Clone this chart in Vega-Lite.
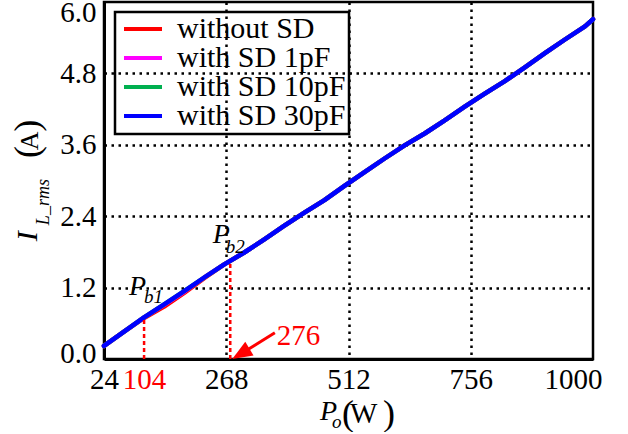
{
  "$schema": "https://vega.github.io/schema/vega-lite/v6.json",
  "width": 489,
  "height": 357,
  "autosize": {"type": "none"},
  "padding": {"left": 104, "top": 2, "right": 35, "bottom": 73},
  "background": "white",
  "config": {
    "view": {"stroke": "black", "strokeWidth": 2.5},
    "font": "'Liberation Serif', serif",
    "axis": {
      "labelFont": "'Liberation Serif', serif",
      "labelFontSize": 29,
      "labelColor": "black",
      "labelOverlap": false,
      "labelBound": false,
      "labelFlush": false,
      "ticks": false,
      "domain": true,
      "domainColor": "black",
      "domainWidth": 3,
      "grid": true,
      "gridColor": "black",
      "gridDash": [2.5, 4.5],
      "gridWidth": 2.5,
      "title": null
    },
    "legend": {
      "orient": "none",
      "legendX": 11,
      "legendY": 10,
      "strokeColor": "black",
      "strokeWidth": 2.5,
      "padding": 3,
      "labelFont": "'Liberation Serif', serif",
      "labelFontSize": 30,
      "labelLimit": 400,
      "labelColor": "black",
      "labelOffset": 13,
      "symbolType": "stroke",
      "symbolSize": 1444,
      "symbolStrokeWidth": 4,
      "symbolOffset": 4,
      "clipHeight": 28,
      "rowPadding": -2,
      "title": null
    }
  },
  "layer": [
    {
      "data": {
        "values": [
          {"Po": 24, "I": 0.22, "series": "without SD"},
          {"Po": 64, "I": 0.46, "series": "without SD"},
          {"Po": 104, "I": 0.69, "series": "without SD"},
          {"Po": 144, "I": 0.88, "series": "without SD"},
          {"Po": 184, "I": 1.11, "series": "without SD"},
          {"Po": 224, "I": 1.36, "series": "without SD"},
          {"Po": 264, "I": 1.59, "series": "without SD"},
          {"Po": 304, "I": 1.79, "series": "without SD"},
          {"Po": 344, "I": 2.01, "series": "without SD"},
          {"Po": 384, "I": 2.24, "series": "without SD"},
          {"Po": 424, "I": 2.46, "series": "without SD"},
          {"Po": 464, "I": 2.67, "series": "without SD"},
          {"Po": 504, "I": 2.91, "series": "without SD"},
          {"Po": 544, "I": 3.14, "series": "without SD"},
          {"Po": 584, "I": 3.37, "series": "without SD"},
          {"Po": 624, "I": 3.59, "series": "without SD"},
          {"Po": 664, "I": 3.79, "series": "without SD"},
          {"Po": 704, "I": 4.01, "series": "without SD"},
          {"Po": 744, "I": 4.24, "series": "without SD"},
          {"Po": 784, "I": 4.46, "series": "without SD"},
          {"Po": 824, "I": 4.67, "series": "without SD"},
          {"Po": 864, "I": 4.90, "series": "without SD"},
          {"Po": 904, "I": 5.14, "series": "without SD"},
          {"Po": 944, "I": 5.37, "series": "without SD"},
          {"Po": 984, "I": 5.59, "series": "without SD"},
          {"Po": 1000, "I": 5.71, "series": "without SD"},
          {"Po": 24, "I": 0.22, "series": "with SD 1pF"},
          {"Po": 64, "I": 0.46, "series": "with SD 1pF"},
          {"Po": 104, "I": 0.70, "series": "with SD 1pF"},
          {"Po": 144, "I": 0.91, "series": "with SD 1pF"},
          {"Po": 184, "I": 1.13, "series": "with SD 1pF"},
          {"Po": 224, "I": 1.37, "series": "with SD 1pF"},
          {"Po": 264, "I": 1.59, "series": "with SD 1pF"},
          {"Po": 304, "I": 1.79, "series": "with SD 1pF"},
          {"Po": 344, "I": 2.01, "series": "with SD 1pF"},
          {"Po": 384, "I": 2.24, "series": "with SD 1pF"},
          {"Po": 424, "I": 2.46, "series": "with SD 1pF"},
          {"Po": 464, "I": 2.67, "series": "with SD 1pF"},
          {"Po": 504, "I": 2.91, "series": "with SD 1pF"},
          {"Po": 544, "I": 3.14, "series": "with SD 1pF"},
          {"Po": 584, "I": 3.37, "series": "with SD 1pF"},
          {"Po": 624, "I": 3.59, "series": "with SD 1pF"},
          {"Po": 664, "I": 3.79, "series": "with SD 1pF"},
          {"Po": 704, "I": 4.01, "series": "with SD 1pF"},
          {"Po": 744, "I": 4.24, "series": "with SD 1pF"},
          {"Po": 784, "I": 4.46, "series": "with SD 1pF"},
          {"Po": 824, "I": 4.67, "series": "with SD 1pF"},
          {"Po": 864, "I": 4.90, "series": "with SD 1pF"},
          {"Po": 904, "I": 5.14, "series": "with SD 1pF"},
          {"Po": 944, "I": 5.37, "series": "with SD 1pF"},
          {"Po": 984, "I": 5.59, "series": "with SD 1pF"},
          {"Po": 1000, "I": 5.71, "series": "with SD 1pF"},
          {"Po": 24, "I": 0.22, "series": "with SD 10pF"},
          {"Po": 64, "I": 0.46, "series": "with SD 10pF"},
          {"Po": 104, "I": 0.70, "series": "with SD 10pF"},
          {"Po": 144, "I": 0.92, "series": "with SD 10pF"},
          {"Po": 184, "I": 1.14, "series": "with SD 10pF"},
          {"Po": 224, "I": 1.37, "series": "with SD 10pF"},
          {"Po": 264, "I": 1.59, "series": "with SD 10pF"},
          {"Po": 304, "I": 1.79, "series": "with SD 10pF"},
          {"Po": 344, "I": 2.01, "series": "with SD 10pF"},
          {"Po": 384, "I": 2.24, "series": "with SD 10pF"},
          {"Po": 424, "I": 2.46, "series": "with SD 10pF"},
          {"Po": 464, "I": 2.67, "series": "with SD 10pF"},
          {"Po": 504, "I": 2.91, "series": "with SD 10pF"},
          {"Po": 544, "I": 3.14, "series": "with SD 10pF"},
          {"Po": 584, "I": 3.37, "series": "with SD 10pF"},
          {"Po": 624, "I": 3.59, "series": "with SD 10pF"},
          {"Po": 664, "I": 3.79, "series": "with SD 10pF"},
          {"Po": 704, "I": 4.01, "series": "with SD 10pF"},
          {"Po": 744, "I": 4.24, "series": "with SD 10pF"},
          {"Po": 784, "I": 4.46, "series": "with SD 10pF"},
          {"Po": 824, "I": 4.67, "series": "with SD 10pF"},
          {"Po": 864, "I": 4.90, "series": "with SD 10pF"},
          {"Po": 904, "I": 5.14, "series": "with SD 10pF"},
          {"Po": 944, "I": 5.37, "series": "with SD 10pF"},
          {"Po": 984, "I": 5.59, "series": "with SD 10pF"},
          {"Po": 1000, "I": 5.71, "series": "with SD 10pF"},
          {"Po": 24, "I": 0.22, "series": "with SD 30pF"},
          {"Po": 64, "I": 0.46, "series": "with SD 30pF"},
          {"Po": 104, "I": 0.70, "series": "with SD 30pF"},
          {"Po": 144, "I": 0.92, "series": "with SD 30pF"},
          {"Po": 184, "I": 1.14, "series": "with SD 30pF"},
          {"Po": 224, "I": 1.37, "series": "with SD 30pF"},
          {"Po": 264, "I": 1.59, "series": "with SD 30pF"},
          {"Po": 304, "I": 1.79, "series": "with SD 30pF"},
          {"Po": 344, "I": 2.01, "series": "with SD 30pF"},
          {"Po": 384, "I": 2.24, "series": "with SD 30pF"},
          {"Po": 424, "I": 2.46, "series": "with SD 30pF"},
          {"Po": 464, "I": 2.67, "series": "with SD 30pF"},
          {"Po": 504, "I": 2.91, "series": "with SD 30pF"},
          {"Po": 544, "I": 3.14, "series": "with SD 30pF"},
          {"Po": 584, "I": 3.37, "series": "with SD 30pF"},
          {"Po": 624, "I": 3.59, "series": "with SD 30pF"},
          {"Po": 664, "I": 3.79, "series": "with SD 30pF"},
          {"Po": 704, "I": 4.01, "series": "with SD 30pF"},
          {"Po": 744, "I": 4.24, "series": "with SD 30pF"},
          {"Po": 784, "I": 4.46, "series": "with SD 30pF"},
          {"Po": 824, "I": 4.67, "series": "with SD 30pF"},
          {"Po": 864, "I": 4.90, "series": "with SD 30pF"},
          {"Po": 904, "I": 5.14, "series": "with SD 30pF"},
          {"Po": 944, "I": 5.37, "series": "with SD 30pF"},
          {"Po": 984, "I": 5.59, "series": "with SD 30pF"},
          {"Po": 1000, "I": 5.71, "series": "with SD 30pF"}
        ]
      },
      "mark": {"type": "line", "strokeWidth": 4.5, "strokeJoin": "round", "strokeCap": "round"},
      "encoding": {
        "x": {
          "field": "Po", "type": "quantitative",
          "scale": {"domain": [24, 1000], "nice": false, "zero": false},
          "axis": {
            "values": [24, 104, 268, 512, 756, 1000],
            "format": "d",
            "labelPadding": 6,
            "labelColor": {"condition": {"test": "datum.value == 104", "value": "#ff0000"}, "value": "black"},
            "labelOffset": {"condition": {"test": "datum.value == 1000", "value": -20}, "value": 0},
            "gridOpacity": {"condition": {"test": "datum.value == 104 || datum.value == 24 || datum.value == 1000", "value": 0}, "value": 1}
          }
        },
        "y": {
          "field": "I", "type": "quantitative",
          "scale": {"domain": [0, 6], "nice": false},
          "axis": {
            "values": [0, 1.2, 2.4, 3.6, 4.8, 6],
            "format": ".1f",
            "labelPadding": 8,
            "labelOffset": {"condition": [{"test": "datum.value == 6", "value": 10}, {"test": "datum.value == 0", "value": -6}], "value": 0},
            "gridOpacity": {"condition": {"test": "datum.value == 0 || datum.value == 6", "value": 0}, "value": 1}
          }
        },
        "color": {
          "field": "series", "type": "nominal",
          "scale": {
            "domain": ["without SD", "with SD 1pF", "with SD 10pF", "with SD 30pF"],
            "range": ["#ff0000", "#ff00ff", "#00b050", "#0000ff"]
          }
        }
      }
    },
    {
      "data": {"values": [{"Po": 104, "I": 0, "I2": 0.70}, {"Po": 276, "I": 0, "I2": 1.61}]},
      "mark": {"type": "rule", "color": "#ff0000", "strokeWidth": 2.5, "strokeDash": [4, 3]},
      "encoding": {
        "x": {"field": "Po", "type": "quantitative"},
        "y": {"field": "I", "type": "quantitative"},
        "y2": {"field": "I2"}
      }
    },
    {
      "data": {"values": [{"Po": 365, "I": 0.44, "Po2": 300, "I2": 0.1}]},
      "mark": {"type": "rule", "color": "#ff0000", "strokeWidth": 3},
      "encoding": {
        "x": {"field": "Po", "type": "quantitative"},
        "y": {"field": "I", "type": "quantitative"},
        "x2": {"field": "Po2"},
        "y2": {"field": "I2"}
      }
    },
    {
      "data": {"values": [{"Po": 280, "I": 0}]},
      "mark": {"type": "point", "shape": "M0,0L-0.4,1L0.4,1Z", "size": 1600, "angle": 239, "filled": true, "color": "#ff0000", "opacity": 1, "strokeWidth": 0, "clip": false},
      "encoding": {
        "x": {"field": "Po", "type": "quantitative"},
        "y": {"field": "I", "type": "quantitative"}
      }
    },
    {
      "data": {"values": [{"Po": 369, "I": 0.235, "t": "276"}]},
      "mark": {"type": "text", "color": "#ff0000", "fontSize": 29, "font": "'Liberation Serif', serif", "align": "left", "baseline": "alphabetic"},
      "encoding": {
        "x": {"field": "Po", "type": "quantitative"},
        "y": {"field": "I", "type": "quantitative"},
        "text": {"field": "t"}
      }
    },
    {
      "data": {"values": [{"Po": 74, "I": 1.076, "t": "P"}, {"Po": 241, "I": 1.95, "t": "P"}, {"Po": 455, "I": -1.025, "t": "P"}]},
      "mark": {"type": "text", "color": "black", "fontSize": 28, "fontStyle": "italic", "font": "'Liberation Serif', serif", "align": "left", "baseline": "alphabetic"},
      "encoding": {
        "x": {"field": "Po", "type": "quantitative"},
        "y": {"field": "I", "type": "quantitative"},
        "text": {"field": "t"}
      }
    },
    {
      "data": {"values": [{"Po": 104, "I": 0.94, "t": "b1"}, {"Po": 267, "I": 1.78, "t": "b2"}, {"Po": 479, "I": -1.16, "t": "o"}]},
      "mark": {"type": "text", "color": "black", "fontSize": 19, "fontStyle": "italic", "font": "'Liberation Serif', serif", "align": "left", "baseline": "alphabetic"},
      "encoding": {
        "x": {"field": "Po", "type": "quantitative"},
        "y": {"field": "I", "type": "quantitative"},
        "text": {"field": "t"}
      }
    },
    {
      "data": {"values": [{"Po": 499, "I": -1.11, "t": "("}, {"Po": 581, "I": -1.11, "t": ")"}]},
      "mark": {"type": "text", "color": "black", "fontSize": 36, "font": "'Liberation Serif', serif", "align": "left", "baseline": "alphabetic"},
      "encoding": {
        "x": {"field": "Po", "type": "quantitative"},
        "y": {"field": "I", "type": "quantitative"},
        "text": {"field": "t"}
      }
    },
    {
      "data": {"values": [{"Po": 515, "I": -1.076, "t": "W"}]},
      "mark": {"type": "text", "color": "black", "fontSize": 29, "font": "'Liberation Serif', serif", "align": "left", "baseline": "alphabetic"},
      "encoding": {
        "x": {"field": "Po", "type": "quantitative"},
        "y": {"field": "I", "type": "quantitative"},
        "text": {"field": "t"}
      }
    },
    {
      "data": {"values": [{"Po": -109.7, "I": 1.98, "t": "I"}]},
      "mark": {"type": "text", "angle": 270, "color": "black", "fontSize": 30, "fontStyle": "italic", "font": "'Liberation Serif', serif", "align": "left", "baseline": "alphabetic"},
      "encoding": {
        "x": {"field": "Po", "type": "quantitative"},
        "y": {"field": "I", "type": "quantitative"},
        "text": {"field": "t"}
      }
    },
    {
      "data": {"values": [{"Po": -85.8, "I": 2.25, "t": "L_rms"}]},
      "mark": {"type": "text", "angle": 270, "color": "black", "fontSize": 18, "fontStyle": "italic", "font": "'Liberation Serif', serif", "align": "left", "baseline": "alphabetic"},
      "encoding": {
        "x": {"field": "Po", "type": "quantitative"},
        "y": {"field": "I", "type": "quantitative"},
        "text": {"field": "t"}
      }
    },
    {
      "data": {"values": [{"Po": -105.7, "I": 3.38, "t": "("}, {"Po": -105.7, "I": 3.82, "t": ")"}]},
      "mark": {"type": "text", "angle": 270, "color": "black", "fontSize": 36, "font": "'Liberation Serif', serif", "align": "left", "baseline": "alphabetic"},
      "encoding": {
        "x": {"field": "Po", "type": "quantitative"},
        "y": {"field": "I", "type": "quantitative"},
        "text": {"field": "t"}
      }
    },
    {
      "data": {"values": [{"Po": -108.7, "I": 3.51, "t": "A"}]},
      "mark": {"type": "text", "angle": 270, "color": "black", "fontSize": 26, "font": "'Liberation Serif', serif", "align": "left", "baseline": "alphabetic"},
      "encoding": {
        "x": {"field": "Po", "type": "quantitative"},
        "y": {"field": "I", "type": "quantitative"},
        "text": {"field": "t"}
      }
    }
  ]
}
